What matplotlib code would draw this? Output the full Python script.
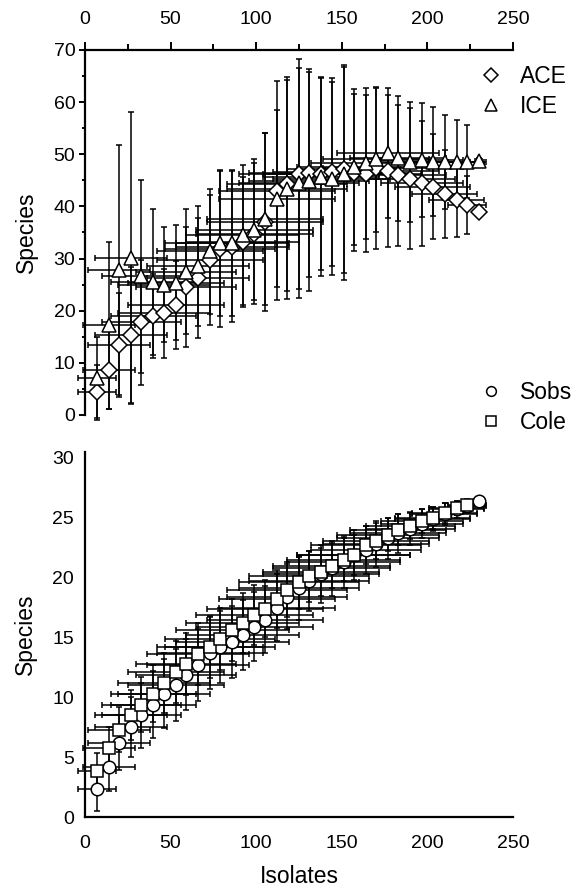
import matplotlib
matplotlib.use("Agg")
import matplotlib.pyplot as plt
from matplotlib.lines import Line2D
from matplotlib.ticker import MultipleLocator

plt.rcParams['font.family'] = ['Liberation Sans', 'DejaVu Sans']

# Mean number of isolates at each sampling step
isolates = [7, 14, 20, 27, 33, 40, 46, 53, 59, 66, 73, 79, 86, 92, 99, 105, 112, 118,
            125, 131, 138, 144, 151, 157, 164, 170, 177, 183, 190, 197, 203, 210, 217, 223, 230]
isolates_sd = [11, 15, 18, 21, 23, 25, 27, 28, 29, 30, 31, 32, 33, 33, 34, 34, 34, 35,
               35, 35, 34, 34, 33, 33, 32, 31, 30, 28, 26, 24, 22, 19, 16, 11, 2]

# Top panel: richness estimators
ace = [4.5, 8.6, 13.4, 15.3, 17.8, 19.0, 19.5, 21.1, 24.6, 26.2, 29.7, 31.8, 32.3, 33.2,
       34.8, 37.0, 43.0, 44.3, 46.2, 46.4, 46.3, 46.6, 47.2, 46.5, 46.3, 47.3, 46.8, 46.0,
       45.3, 44.4, 43.8, 42.4, 41.2, 40.3, 39.0]
ace_sd = [5, 7.5, 10, 13, 12, 8, 8.5, 8.5, 11.5, 11.5, 12.5, 15, 14.5, 12.5, 13.5, 17, 21,
          20.5, 22, 20, 18.5, 18, 20, 15, 15, 15.5, 14.5, 13.5, 13.5, 12, 10, 8.5, 7, 5.5, 1]
ice = [7.0, 17.2, 27.8, 30.1, 26.6, 25.6, 25.0, 25.4, 27.5, 28.5, 31.4, 33.0, 33.0, 34.5,
       35.5, 37.6, 41.5, 43.3, 44.5, 44.8, 45.6, 45.3, 46.3, 47.6, 48.3, 49.0, 50.2, 49.2,
       48.6, 48.9, 48.6, 48.6, 48.6, 48.6, 48.8]
ice_sd = [8, 16, 24, 28, 18.5, 14, 11, 11, 12, 11.5, 12, 14, 14, 13.5, 13.5, 16.5, 17, 21,
          22, 21, 19, 18.5, 20.5, 15, 14.5, 14, 12.5, 12, 11.5, 11, 10.5, 9, 8, 7, 0.5]

# Bottom panel: observed richness and Coleman curve
sobs = [2.3, 4.15, 6.2, 7.5, 8.5, 9.4, 10.3, 11.0, 11.9, 12.7, 13.7, 14.2, 14.6, 15.2,
        15.9, 16.5, 17.5, 18.4, 19.1, 19.7, 20.3, 20.8, 21.3, 21.9, 22.3, 22.8, 23.3, 23.7,
        24.1, 24.5, 24.9, 25.3, 25.7, 26.0, 26.4]
sobs_sd = [1.8, 2.0, 2.3, 2.5, 2.7, 2.8, 2.9, 3.0, 3.0, 3.0, 3.0, 3.0, 3.0, 2.9, 2.9, 2.8,
           2.8, 2.7, 2.6, 2.5, 2.4, 2.3, 2.2, 2.1, 2.0, 1.9, 1.7, 1.6, 1.4, 1.2, 1.0, 0.9,
           0.7, 0.5, 0.1]
# no Coleman marker is shown at the last step
cole = [3.85, 5.8, 7.3, 8.5, 9.4, 10.3, 11.2, 12.1, 12.8, 13.6, 14.2, 14.9, 15.6, 16.2,
        16.9, 17.4, 18.2, 19.0, 19.6, 20.1, 20.5, 21.0, 21.5, 21.9, 22.7, 23.1, 23.6, 24.0,
        24.3, 24.7, 25.0, 25.4, 25.8, 26.1, float('nan')]
cole_sd = [1.5, 1.7, 1.9, 2.1, 2.3, 2.4, 2.5, 2.6, 2.6, 2.6, 2.6, 2.6, 2.6, 2.5, 2.5, 2.4,
           2.4, 2.3, 2.2, 2.1, 2.0, 1.9, 1.8, 1.7, 1.6, 1.5, 1.4, 1.3, 1.1, 1.0, 0.9, 0.8,
           0.6, 0.5, 0.2]

W, H = 576, 892
fig = plt.figure(figsize=(W / 100, H / 100), dpi=100)
ax1 = fig.add_axes([85 / W, 1 - 415 / H, 428 / W, 365 / H])
ax2 = fig.add_axes([85 / W, 1 - 817 / H, 428 / W, 365 / H])


def draw(ax, y, yerr, marker, ms):
    cont = ax.errorbar(isolates, y, xerr=isolates_sd, yerr=yerr, fmt=marker, ms=ms,
                       mfc='white', mec='black', mew=1.1, ecolor='black', elinewidth=1.1,
                       capsize=2.5, capthick=1.1)
    for art in cont.get_children():
        art.set_clip_on(False)


draw(ax1, ace, ace_sd, 'D', 8.5)
draw(ax1, ice, ice_sd, '^', 10)
draw(ax2, sobs, sobs_sd, 'o', 9)
draw(ax2, cole, cole_sd, 's', 8)

# top panel axes
ax1.set_xlim(0, 250)
ax1.set_ylim(0, 70)
ax1.xaxis.tick_top()
ax1.spines['bottom'].set_visible(False)
ax1.spines['right'].set_visible(False)
for s in ('left', 'top'):
    ax1.spines[s].set_linewidth(1.6)
ax1.xaxis.set_major_locator(MultipleLocator(50))
ax1.xaxis.set_minor_locator(MultipleLocator(25))
ax1.yaxis.set_major_locator(MultipleLocator(10))
ax1.yaxis.set_minor_locator(MultipleLocator(5))
ax1.tick_params(axis='x', which='major', length=6, width=1.4, labelsize=14, pad=10)
ax1.tick_params(axis='x', which='minor', length=4, width=1.4)
ax1.tick_params(axis='y', which='major', length=4, width=1.4, labelsize=14, pad=3)
ax1.tick_params(axis='y', which='minor', length=2.5, width=1.4)
ax1.set_ylabel('Species', fontsize=16.5, labelpad=11)

# bottom panel axes
ax2.set_xlim(0, 250)
ax2.set_ylim(0, 30.5)
ax2.spines['top'].set_visible(False)
ax2.spines['right'].set_visible(False)
for s in ('left', 'bottom'):
    ax2.spines[s].set_linewidth(1.6)
ax2.xaxis.set_major_locator(MultipleLocator(50))
ax2.yaxis.set_major_locator(MultipleLocator(5))
ax2.tick_params(length=0, labelsize=14)
ax2.tick_params(axis='x', pad=13)
ax2.tick_params(axis='y', pad=8)
ax2.set_xlabel('Isolates', fontsize=16.5, labelpad=9)
ax2.set_ylabel('Species', fontsize=16.5, labelpad=11)


# legends placed to the right of the panels
def legend(ax, labels, items, top):
    handles = [Line2D([], [], ls='none', marker=m, ms=ms, mfc='white', mec='black', mew=1.1)
               for m, ms in items]
    return ax.legend(handles, labels, loc='upper left', frameon=False,
                     bbox_to_anchor=(480 / W, 1 - top / H), bbox_transform=fig.transFigure,
                     fontsize=16.5, handlelength=1.0, handletextpad=0.75,
                     labelspacing=0.3, borderpad=0, borderaxespad=0)


legend(ax1, ['ACE', 'ICE'], [('D', 7), ('^', 8)], 65)
legend(ax2, ['Sobs', 'Cole'], [('o', 7), ('s', 6.5)], 381)

fig.savefig('out.png', dpi=100)
